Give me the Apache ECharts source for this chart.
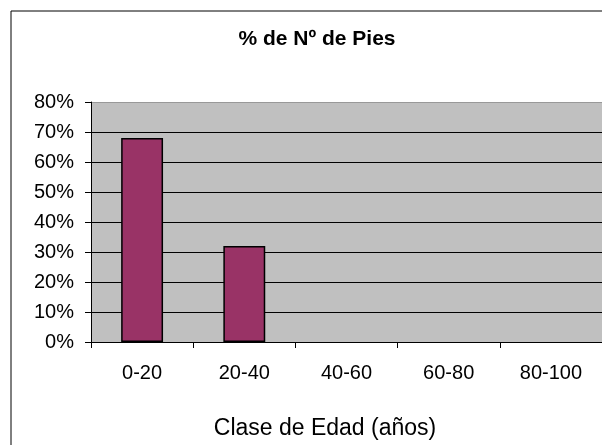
<!DOCTYPE html>
<html lang="es">
<head>
	<meta charset="UTF-8">
	<title>% de Nº de Pies</title>
	<style>
		*{
			margin: 0;
			padding: 0;
		}
		body{
			background: #fff;
		}
		#chart{
			width: 602px;
			height: 445px;
		}
	</style>
	<script src="https://cdn.jsdelivr.net/npm/echarts@6/dist/echarts.min.js"></script>
</head>
<body>
	<div id="chart"></div>
	<script>
		// datos
		var clases = ['0-20', '20-40', '40-60', '60-80', '80-100'];
		var porcentajes = [68, 32, 0, 0, 0];
		var titulo = '% de Nº de Pies';
		var nombreEjeX = 'Clase de Edad (años)';

		var fuente = 'Liberation Sans';
		var chart = echarts.init(document.getElementById('chart'));

		// las barras a cero no se dibujan con borde
		var datosBarras = porcentajes.map(function (v) {
			return v > 0 ? v : { value: v, itemStyle: { borderWidth: 0 } };
		});

		var option = {
			backgroundColor: '#fff',
			animation: false,
			graphic: [
				{
					type: 'rect',
					shape: { x: 11, y: 11, width: 640, height: 480 },
					style: { fill: 'none', stroke: '#000', lineWidth: 1 },
					silent: true
				},
				{
					type: 'text',
					x: 317,
					y: 39,
					style: {
						text: titulo,
						fontSize: 21,
						fontWeight: 'bold',
						fontFamily: fuente,
						fill: '#000',
						align: 'center',
						verticalAlign: 'middle'
					}
				},
				{
					type: 'text',
					x: 325,
					y: 429,
					style: {
						text: nombreEjeX,
						fontSize: 23,
						fontFamily: fuente,
						fill: '#000',
						align: 'center',
						verticalAlign: 'middle'
					}
				}
			],
			grid: {
				left: 91,
				top: 102,
				right: 0,
				bottom: 103,
				show: true,
				backgroundColor: '#C0C0C0',
				borderWidth: 0
			},
			xAxis: {
				type: 'category',
				data: clases,
				axisLine: { lineStyle: { color: '#000', width: 1 } },
				axisTick: { show: true, length: 6, lineStyle: { color: '#000' } },
				axisLabel: {
					color: '#000',
					fontSize: 20,
					fontFamily: fuente,
					margin: 21
				},
				splitLine: { show: false }
			},
			yAxis: {
				type: 'value',
				min: 0,
				max: 80,
				interval: 10,
				axisLine: { show: true, lineStyle: { color: '#000', width: 1 } },
				axisTick: { show: true, length: 6, lineStyle: { color: '#000' } },
				axisLabel: {
					color: '#000',
					fontSize: 20,
					fontFamily: fuente,
					margin: 17,
					formatter: '{value}%'
				},
				splitLine: {
					show: true,
					lineStyle: {
						color: ['#000', '#000', '#000', '#000', '#000', '#000', '#000', '#000', '#999'],
						width: 1
					}
				}
			},
			series: [
				{
					name: titulo,
					type: 'bar',
					data: datosBarras,
					barWidth: '41%',
					itemStyle: {
						color: '#993366',
						borderColor: '#000',
						borderWidth: 1.5
					}
				}
			]
		};
		chart.setOption(option);
	</script>
</body>
</html>
